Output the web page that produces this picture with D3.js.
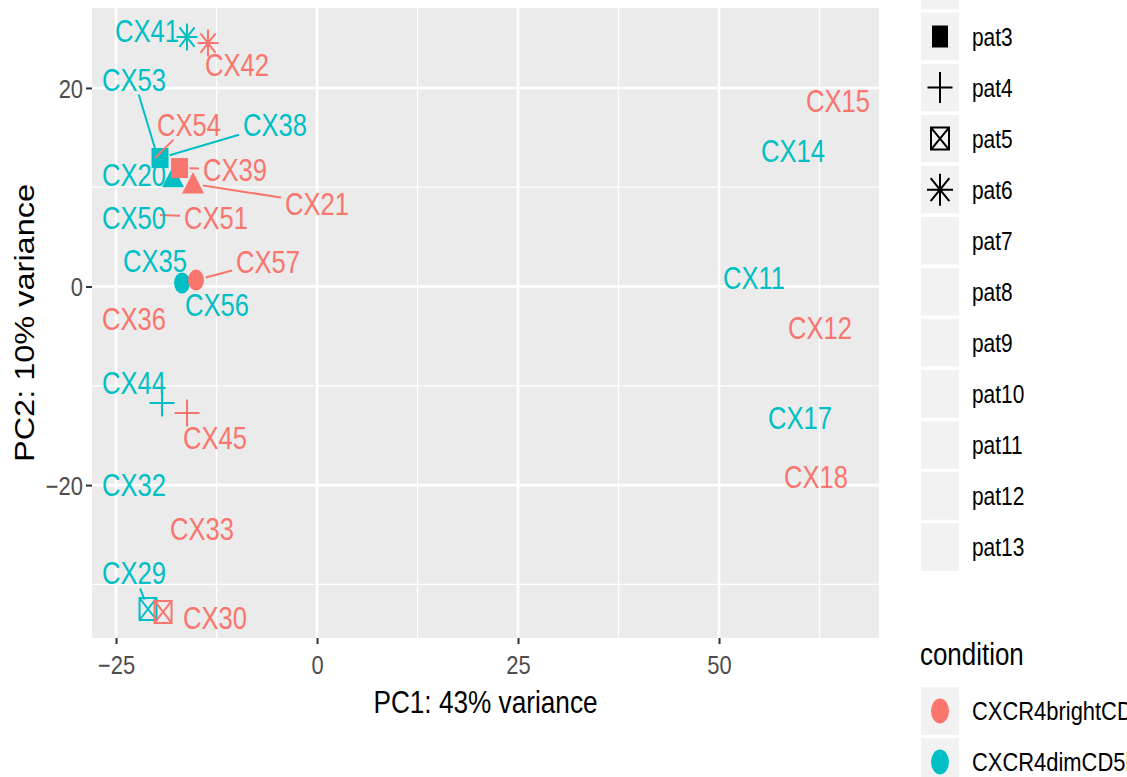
<!DOCTYPE html>
<html>
<head>
<meta charset="utf-8">
<script src="https://cdn.jsdelivr.net/npm/d3@7"></script>
<style>
  body { margin: 0; background: #fff; overflow: hidden; }
  svg { display: block; }
</style>
</head>
<body>
<div id="chart"></div>
<script>
// ---- data ----
const samples = ['CX11', 'CX12', 'CX14', 'CX15', 'CX17', 'CX18', 'CX20', 'CX21', 'CX29', 'CX30',
  'CX32', 'CX33', 'CX35', 'CX36', 'CX38', 'CX39', 'CX41', 'CX42', 'CX44', 'CX45',
  'CX50', 'CX51', 'CX53', 'CX54', 'CX56', 'CX57']
const condition = ['CXCR4dimCD5bright', 'CXCR4brightCD5dim', 'CXCR4dimCD5bright', 'CXCR4brightCD5dim',
  'CXCR4dimCD5bright', 'CXCR4brightCD5dim', 'CXCR4dimCD5bright', 'CXCR4brightCD5dim',
  'CXCR4dimCD5bright', 'CXCR4brightCD5dim', 'CXCR4dimCD5bright', 'CXCR4brightCD5dim',
  'CXCR4dimCD5bright', 'CXCR4brightCD5dim', 'CXCR4dimCD5bright', 'CXCR4brightCD5dim',
  'CXCR4dimCD5bright', 'CXCR4brightCD5dim', 'CXCR4dimCD5bright', 'CXCR4brightCD5dim',
  'CXCR4dimCD5bright', 'CXCR4brightCD5dim', 'CXCR4dimCD5bright', 'CXCR4brightCD5dim',
  'CXCR4dimCD5bright', 'CXCR4brightCD5dim']
const patient = ['pat7', 'pat7', 'pat8', 'pat8', 'pat9', 'pat9', 'pat2', 'pat2', 'pat5', 'pat5',
  'pat10', 'pat10', 'pat11', 'pat11', 'pat3', 'pat3', 'pat6', 'pat6', 'pat4', 'pat4',
  'pat12', 'pat12', 'pat13', 'pat13', 'pat1', 'pat1']
const pc1 = [54.35, 62.56, 59.20, 64.80, 60.07, 62.06, -17.91, -15.42, -21.02, -19.15,
  -22.76, -14.30, -20.15, -22.76, -19.53, -17.10, -16.17, -13.56, -19.28, -16.17,
  -22.76, -19.53, -20.02, -20.15, -16.79, -15.05]
const pc2 = [0.86, -4.08, 13.75, 18.78, -13.24, -19.18, 10.93, 10.32, -32.48, -32.78,
  -19.89, -24.32, 2.67, -3.27, 12.94, 11.93, 25.12, 24.52, -11.73, -12.74,
  7.00, 7.20, 13.54, 12.94, 0.35, 0.65]
// where the repelled labels ended up (data units)
const labelPc1 = [54.35, 62.56, 59.20, 64.80, 60.07, 62.06, -22.76, 0.00, -22.76, -12.69,
  -22.76, -14.30, -20.15, -22.76, -5.22, -10.20, -21.14, -9.95, -22.76, -12.69,
  -22.76, -12.56, -22.76, -15.92, -12.44, -6.09]
const labelPc2 = [0.86, -4.08, 13.75, 18.78, -13.24, -19.18, 11.33, 8.41, -28.85, -33.38,
  -19.89, -24.32, 2.67, -3.27, 16.36, 11.83, 25.83, 22.41, -9.62, -15.16,
  7.00, 7.00, 20.90, 16.36, -1.86, 2.57]

const patientLevels = ['pat1', 'pat2', 'pat3', 'pat4', 'pat5', 'pat6', 'pat7', 'pat8', 'pat9',
  'pat10', 'pat11', 'pat12', 'pat13']
const conditionLevels = ['CXCR4brightCD5dim', 'CXCR4dimCD5bright']
const xTicks = [-25, 0, 25, 50]
const xMinor = [-12.5, 12.5, 37.5, 62.5]
const yTicks = [-20, 0, 20]
const yMinor = [-30, -10, 10]
const xTitle = 'PC1: 43% variance'
const yTitle = 'PC2: 10% variance'

// ---- look ----
const WIDTH = 1127
const HEIGHT = 777
const FONT = '"Liberation Sans", Arial, Helvetica, sans-serif'
const PANEL = { left: 92, right: 879, top: 8, bottom: 638 }
const COLORS = ['#F8766D', '#00BFC4']
const SHAPES = ['circle', 'triangle', 'square', 'plus', 'boxX', 'asterisk']
const FILLED = { circle: true, triangle: true, square: true }
const PLOT_SIZE = { circle: [8, 10.5], triangle: [11, 11], square: [8.5, 10], plus: [12.5, 13.5], boxX: [8.5, 11], asterisk: [10.5, 13.5] }
const KEY_SIZE = { circle: [9, 12.5], triangle: [12, 12.5], square: [8, 11], plus: [12.5, 15.5], boxX: [9, 11], asterisk: [13, 16] }

const x = d3.scaleLinear().domain([-27.99, 69.9]).range([PANEL.left, PANEL.right])
const y = d3.scaleLinear().domain([-35.4, 28.05]).range([PANEL.bottom, PANEL.top])
const color = d3.scaleOrdinal().domain(conditionLevels).range(COLORS)
const shapeOf = p => SHAPES[patientLevels.indexOf(p)]

function symbolPath(name, hw, hh) {
    const plus = `M${-hw},0H${hw}M0,${-hh}V${hh}`
    const box = `M${-hw},${-hh}H${hw}V${hh}H${-hw}Z`
    switch (name) {
        case 'circle': return `M${-hw},0A${hw},${hh} 0 1,0 ${hw},0A${hw},${hh} 0 1,0 ${-hw},0Z`
        case 'triangle': return `M0,${-hh * 1.1}L${hw},${hh * 0.85}L${-hw},${hh * 0.85}Z`
        case 'square': return box
        case 'plus': return plus
        case 'boxX': return box + `M${-hw},${-hh}L${hw},${hh}M${hw},${-hh}L${-hw},${hh}`
        case 'asterisk': {
            const a = hw * 0.72, b = hh * 0.72
            return plus + `M${-a},${-b}L${a},${b}M${a},${-b}L${-a},${b}`
        }
    }
    return ''
}

function drawSymbol(sel, name, col, size) {
    sel.append('path')
        .attr('d', symbolPath(name, size[0], size[1]))
        .attr('fill', FILLED[name] ? col : 'none')
        .attr('stroke', FILLED[name] ? 'none' : col)
        .attr('stroke-width', FILLED[name] ? 0 : 2)
}

const svg = d3.select('#chart')
    .append('svg')
    .attr('width', WIDTH)
    .attr('height', HEIGHT)
    .style('font-family', FONT)

svg.append('rect').attr('width', WIDTH).attr('height', HEIGHT).attr('fill', '#fff')

/**
 * Panel and grid
 */
svg.append('rect')
    .attr('x', PANEL.left).attr('y', PANEL.top)
    .attr('width', PANEL.right - PANEL.left).attr('height', PANEL.bottom - PANEL.top)
    .attr('fill', '#EBEBEB')

const grid = svg.append('g')
grid.selectAll('.vminor').data(xMinor).enter().append('line')
    .attr('x1', d => x(d)).attr('x2', d => x(d)).attr('y1', PANEL.top).attr('y2', PANEL.bottom)
    .attr('stroke', '#fff').attr('stroke-width', 1.3)
grid.selectAll('.hminor').data(yMinor).enter().append('line')
    .attr('y1', d => y(d)).attr('y2', d => y(d)).attr('x1', PANEL.left).attr('x2', PANEL.right)
    .attr('stroke', '#fff').attr('stroke-width', 1.3)
grid.selectAll('.vmajor').data(xTicks).enter().append('line')
    .attr('x1', d => x(d)).attr('x2', d => x(d)).attr('y1', PANEL.top).attr('y2', PANEL.bottom)
    .attr('stroke', '#fff').attr('stroke-width', 2.6)
grid.selectAll('.hmajor').data(yTicks).enter().append('line')
    .attr('y1', d => y(d)).attr('y2', d => y(d)).attr('x1', PANEL.left).attr('x2', PANEL.right)
    .attr('stroke', '#fff').attr('stroke-width', 2.6)

/**
 * Axes
 */
const TICK_SX = 0.86
const xAxis = svg.append('g')
    .attr('transform', `translate(0, ${PANEL.bottom})`)
    .call(d3.axisBottom(x).tickValues(xTicks).tickSize(6))
const yAxis = svg.append('g')
    .attr('transform', `translate(${PANEL.left}, 0)`)
    .call(d3.axisLeft(y).tickValues(yTicks).tickSize(6))

for (const ax of [xAxis, yAxis]) {
    ax.attr('font-family', FONT).attr('font-size', 25.5)
    ax.select('.domain').remove()
    ax.selectAll('.tick line').attr('stroke', '#333').attr('stroke-width', 2)
    ax.selectAll('.tick text').attr('fill', '#4D4D4D').attr('dy', null)
}
xAxis.selectAll('.tick text').attr('y', 36).attr('x', 0).attr('transform', `scale(${TICK_SX},1)`)
yAxis.selectAll('.tick text').attr('x', -9 / TICK_SX).attr('y', 9.2).attr('transform', `scale(${TICK_SX},1)`)

svg.append('text')
    .attr('transform', `translate(${(PANEL.left + PANEL.right) / 2}, 713) scale(0.845,1)`)
    .attr('text-anchor', 'middle')
    .attr('font-size', 31)
    .attr('fill', '#000')
    .text(xTitle)

svg.append('text')
    .attr('transform', `translate(34, ${(PANEL.top + PANEL.bottom) / 2}) rotate(-90) scale(1,0.86)`)
    .attr('text-anchor', 'middle')
    .attr('font-size', 32.5)
    .attr('fill', '#000')
    .text(yTitle)

/**
 * Points, segments and labels
 */
const rows = samples.map((s, i) => ({
    name: s, cond: condition[i], pat: patient[i], shape: shapeOf(patient[i]),
    px: x(pc1[i]), py: y(pc2[i]), lx: x(labelPc1[i]), ly: y(labelPc2[i])
}))

const pointLayer = svg.append('g')
const segLayer = svg.append('g')
const labelLayer = svg.append('g')

rows.filter(d => d.shape).forEach(d => {
    const g = pointLayer.append('g').attr('transform', `translate(${d.px}, ${d.py})`)
    drawSymbol(g, d.shape, color(d.cond), PLOT_SIZE[d.shape])
})

const LABEL_SIZE = 32
const LABEL_SX = 0.8
rows.forEach(d => {
    const t = labelLayer.append('text')
        .attr('transform', `translate(${d.lx}, ${d.ly + 0.36 * LABEL_SIZE}) scale(${LABEL_SX},1)`)
        .attr('text-anchor', 'middle')
        .attr('font-size', LABEL_SIZE)
        .attr('fill', color(d.cond))
        .text(d.name)
    d.hw = t.node().getComputedTextLength() * LABEL_SX / 2 + 4
    d.hh = 0.36 * LABEL_SIZE + 4
})

// segment from the point toward the label centre, stopped at the label box
rows.forEach(d => {
    const dx = d.lx - d.px, dy = d.ly - d.py
    if (Math.abs(dx) < 1e-6 && Math.abs(dy) < 1e-6) return
    const tx = Math.abs(dx) > 1e-6 ? (Math.abs(dx) - d.hw) / Math.abs(dx) : -Infinity
    const ty = Math.abs(dy) > 1e-6 ? (Math.abs(dy) - d.hh) / Math.abs(dy) : -Infinity
    // the box edge is reached at the larger of the two entry params
    const t = Math.max(tx, ty)
    if (!isFinite(t) || t <= 0) return
    const ex = d.px + dx * t, ey = d.py + dy * t
    const len = Math.hypot(ex - d.px, ey - d.py)
    const pad = d.shape ? 10 : 0
    if (len - pad < 7) return
    const sx = d.px + (ex - d.px) * pad / len, sy = d.py + (ey - d.py) * pad / len
    segLayer.append('line')
        .attr('x1', sx).attr('y1', sy).attr('x2', ex).attr('y2', ey)
        .attr('stroke', color(d.cond)).attr('stroke-width', 2)
})

/**
 * Legends
 */
const KEY_X = 921, KEY_W = 38, KEY_H = 47.5
const keyY = d3.scaleLinear().domain([2, 12]).range([36.5, 547])

const patLegend = svg.append('g')
patientLevels.forEach((p, i) => {
    const cy = keyY(i)
    patLegend.append('rect')
        .attr('x', KEY_X).attr('y', cy - KEY_H / 2)
        .attr('width', KEY_W).attr('height', KEY_H)
        .attr('fill', '#F2F2F2')
    const s = SHAPES[i]
    if (s) {
        const g = patLegend.append('g').attr('transform', `translate(${KEY_X + KEY_W / 2}, ${cy})`)
        drawSymbol(g, s, '#000', KEY_SIZE[s])
    }
    patLegend.append('text')
        .attr('transform', `translate(972, ${cy + 9.2}) scale(0.82,1)`)
        .attr('font-size', 25.5)
        .attr('fill', '#000')
        .text(p)
})

const condLegend = svg.append('g')
condLegend.append('text')
    .attr('transform', 'translate(920, 665) scale(0.85,1)')
    .attr('font-size', 30.5)
    .attr('fill', '#000')
    .text('condition')
conditionLevels.forEach((c, i) => {
    const cy = 711 + i * 51
    condLegend.append('rect')
        .attr('x', KEY_X).attr('y', cy - KEY_H / 2)
        .attr('width', KEY_W).attr('height', KEY_H)
        .attr('fill', '#F2F2F2')
    const g = condLegend.append('g').attr('transform', `translate(${KEY_X + KEY_W / 2}, ${cy})`)
    drawSymbol(g, 'circle', color(c), KEY_SIZE.circle)
    condLegend.append('text')
        .attr('transform', `translate(972, ${cy + 9.2}) scale(0.86,1)`)
        .attr('font-size', 25.5)
        .attr('fill', '#000')
        .text(c)
})
</script>
</body>
</html>
